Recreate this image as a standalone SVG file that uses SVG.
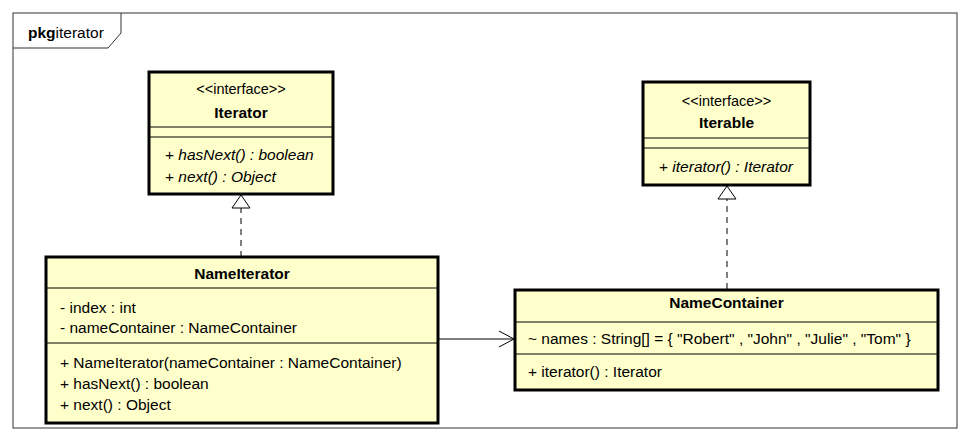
<svg xmlns="http://www.w3.org/2000/svg" width="972" height="441" viewBox="0 0 972 441">
<style>
text{font-family:"Liberation Sans",Arial,sans-serif;font-size:15.5px;fill:#000}
.b{font-weight:bold}
.i{font-style:italic}
.c{text-anchor:middle}
.box{fill:#FFFFCC;stroke:#000;stroke-width:3}
.sep{stroke:#000;stroke-width:1}
.dash{stroke:#000;stroke-width:1;stroke-dasharray:6,5;fill:none}
</style>
<defs>
<marker id="tri" markerWidth="20" markerHeight="16" viewBox="0 0 20 16" refX="1" refY="8" orient="auto" markerUnits="userSpaceOnUse">
<path d="M1,8 L14,0 L14,16 Z" fill="#fff" stroke="#000" stroke-width="1"/>
</marker>
<marker id="open" markerWidth="20" markerHeight="20" viewBox="0 0 20 20" refX="16" refY="10" orient="auto" markerUnits="userSpaceOnUse">
<path d="M2,2 L16,10 L2,18" fill="none" stroke="#000" stroke-width="1"/>
</marker>
</defs>
<rect x="0" y="0" width="972" height="441" fill="#fff"/>
<g id="package">
<rect x="13" y="13" width="944" height="415" fill="none" stroke="#333" stroke-width="1"/>
<path d="M13,48 L108,48 L121,33 L121,13" fill="none" stroke="#333" stroke-width="1"/>
<text x="28" y="38"><tspan class="b">pkg</tspan>iterator</text>
</g>
<g id="connectors">
<line x1="241" y1="257" x2="241" y2="208" class="dash"/>
<path d="M241,195 L232,208 L250,208 Z" fill="#fff" stroke="#000" stroke-width="1"/>
<line x1="727" y1="289" x2="727" y2="199" class="dash"/>
<path d="M727,186 L718,199 L736,199 Z" fill="#fff" stroke="#000" stroke-width="1"/>
<line x1="439" y1="339" x2="514" y2="339" stroke="#000" stroke-width="1"/>
<path d="M499,331 L514,339 L499,347" fill="none" stroke="#000" stroke-width="1"/>
</g>
<g id="Iterator">
<rect x="149" y="72" width="184" height="122" class="box"/>
<line x1="149" y1="127" x2="333" y2="127" class="sep"/>
<line x1="149" y1="137" x2="333" y2="137" class="sep"/>
<text x="241" y="94" class="c" style="font-size:14.5px">&lt;&lt;interface&gt;&gt;</text>
<text x="241" y="118" class="c b">Iterator</text>
<text x="165" y="160"><tspan>+ </tspan><tspan class="i">hasNext() : boolean</tspan></text>
<text x="165" y="182"><tspan>+ </tspan><tspan class="i">next() : Object</tspan></text>
</g>
<g id="Iterable">
<rect x="643" y="82" width="167" height="103" class="box"/>
<line x1="643" y1="138" x2="810" y2="138" class="sep"/>
<line x1="643" y1="148" x2="810" y2="148" class="sep"/>
<text x="726.5" y="106" class="c" style="font-size:14.5px">&lt;&lt;interface&gt;&gt;</text>
<text x="726.5" y="128" class="c b">Iterable</text>
<text x="659" y="172"><tspan>+ </tspan><tspan class="i">iterator() : Iterator</tspan></text>
</g>
<g id="NameIterator">
<rect x="46" y="257" width="392" height="166" class="box"/>
<line x1="46" y1="288" x2="438" y2="288" class="sep"/>
<line x1="46" y1="343" x2="438" y2="343" class="sep"/>
<text x="242" y="279" class="c b">NameIterator</text>
<text x="60" y="313">- index : int</text>
<text x="60" y="333">- nameContainer : NameContainer</text>
<text x="60" y="368">+ NameIterator(nameContainer : NameContainer)</text>
<text x="60" y="389">+ hasNext() : boolean</text>
<text x="60" y="410">+ next() : Object</text>
</g>
<g id="NameContainer">
<rect x="515" y="290" width="423" height="100" class="box"/>
<line x1="515" y1="322" x2="938" y2="322" class="sep"/>
<line x1="515" y1="354" x2="938" y2="354" class="sep"/>
<text x="726.5" y="308" class="c b">NameContainer</text>
<text x="528" y="344">~ names : String[] = { "Robert" , "John" , "Julie" , "Tom" }</text>
<text x="528" y="377">+ iterator() : Iterator</text>
</g>
</svg>
